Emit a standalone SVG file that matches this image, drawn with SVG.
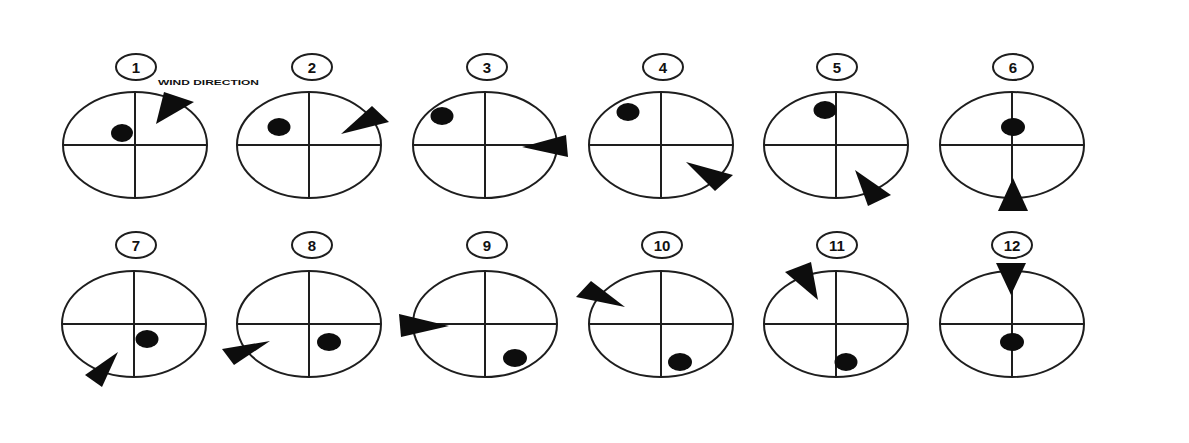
<svg xmlns="http://www.w3.org/2000/svg" width="1189" height="443" viewBox="0 0 1189 443">
<style>
.ring{fill:none;stroke:#1e1e1e;stroke-width:2}
.cross{stroke:#1e1e1e;stroke-width:2}
.lbl{fill:none;stroke:#1e1e1e;stroke-width:2}
.num{font-family:"Liberation Sans",Arial,sans-serif;font-weight:bold;font-size:15px;fill:#111;text-anchor:middle}
.dot{fill:#0d0d0d}
.wind{fill:#0d0d0d}
.note{font-family:"Liberation Sans",Arial,sans-serif;font-weight:bold;font-size:7.5px;fill:#111}
</style>
<defs>
<g id="dial">
<ellipse class="ring" cx="0" cy="0" rx="72" ry="53"/>
<line class="cross" x1="-72" y1="0" x2="72" y2="0"/>
<line class="cross" x1="0" y1="-53" x2="0" y2="53"/>
</g>
</defs>
<rect width="1189" height="443" fill="#fff"/>

<g id="panel1">
<use href="#dial" x="135" y="145"/>
<ellipse class="lbl" cx="136" cy="67" rx="20" ry="13"/><text class="num" x="136" y="72.5">1</text>
<ellipse class="dot" cx="122" cy="133" rx="11" ry="9"/>
<polygon class="wind" points="164,92 194,102 156,124"/>
<text class="note" x="158" y="85" textLength="101" lengthAdjust="spacingAndGlyphs">WIND DIRECTION</text>
</g>
<g id="panel2">
<use href="#dial" x="309" y="145"/>
<ellipse class="lbl" cx="312" cy="67" rx="20" ry="13"/><text class="num" x="312" y="72.5">2</text>
<ellipse class="dot" cx="279" cy="127" rx="11.5" ry="9"/>
<polygon class="wind" points="372,106 389,122 341,134"/>
</g>
<g id="panel3">
<use href="#dial" x="485" y="145"/>
<ellipse class="lbl" cx="487" cy="67" rx="20" ry="13"/><text class="num" x="487" y="72.5">3</text>
<ellipse class="dot" cx="442" cy="116" rx="11.5" ry="9"/>
<polygon class="wind" points="566,135 568,157 522,147"/>
</g>
<g id="panel4">
<use href="#dial" x="661" y="145"/>
<ellipse class="lbl" cx="663" cy="67" rx="20" ry="13"/><text class="num" x="663" y="72.5">4</text>
<ellipse class="dot" cx="628" cy="112" rx="11.5" ry="9"/>
<polygon class="wind" points="686,162 733,175 715,191"/>
</g>
<g id="panel5">
<use href="#dial" x="836" y="145"/>
<ellipse class="lbl" cx="837" cy="67" rx="20" ry="13"/><text class="num" x="837" y="72.5">5</text>
<ellipse class="dot" cx="825" cy="110" rx="11.5" ry="9"/>
<polygon class="wind" points="855,170 891,195 868,206"/>
</g>
<g id="panel6">
<use href="#dial" x="1012" y="145"/>
<ellipse class="lbl" cx="1013" cy="67" rx="20" ry="13"/><text class="num" x="1013" y="72.5">6</text>
<ellipse class="dot" cx="1013" cy="127" rx="12" ry="9"/>
<polygon class="wind" points="1013,178 998,211 1028,211"/>
</g>

<g id="panel7">
<use href="#dial" x="134" y="324"/>
<ellipse class="lbl" cx="136" cy="245" rx="20" ry="13"/><text class="num" x="136" y="250.5">7</text>
<ellipse class="dot" cx="147" cy="339" rx="11.5" ry="9"/>
<polygon class="wind" points="118,352 85,375 102,387"/>
</g>
<g id="panel8">
<use href="#dial" x="309" y="324"/>
<ellipse class="lbl" cx="312" cy="245" rx="20" ry="13"/><text class="num" x="312" y="250.5">8</text>
<ellipse class="dot" cx="329" cy="342" rx="12" ry="9"/>
<polygon class="wind" points="270,341 222,349 234,365"/>
</g>
<g id="panel9">
<use href="#dial" x="485" y="324"/>
<ellipse class="lbl" cx="487" cy="245" rx="20" ry="13"/><text class="num" x="487" y="250.5">9</text>
<ellipse class="dot" cx="515" cy="358" rx="12" ry="9"/>
<polygon class="wind" points="449,326 399,314 401,337"/>
</g>
<g id="panel10">
<use href="#dial" x="661" y="324"/>
<ellipse class="lbl" cx="662" cy="245" rx="20" ry="13"/><text class="num" x="662" y="250.5">10</text>
<ellipse class="dot" cx="680" cy="362" rx="12" ry="9"/>
<polygon class="wind" points="625,307 591,281 576,297"/>
</g>
<g id="panel11">
<use href="#dial" x="836" y="324"/>
<ellipse class="lbl" cx="837" cy="245" rx="20" ry="13"/><text class="num" x="837" y="250.5">11</text>
<ellipse class="dot" cx="846" cy="362" rx="11.5" ry="9"/>
<polygon class="wind" points="818,300 785,272 811,262"/>
</g>
<g id="panel12">
<use href="#dial" x="1012" y="324"/>
<ellipse class="lbl" cx="1012" cy="245" rx="20" ry="13"/><text class="num" x="1012" y="250.5">12</text>
<ellipse class="dot" cx="1012" cy="342" rx="12" ry="9"/>
<polygon class="wind" points="1011,295 996,263 1026,263"/>
</g>
</svg>
